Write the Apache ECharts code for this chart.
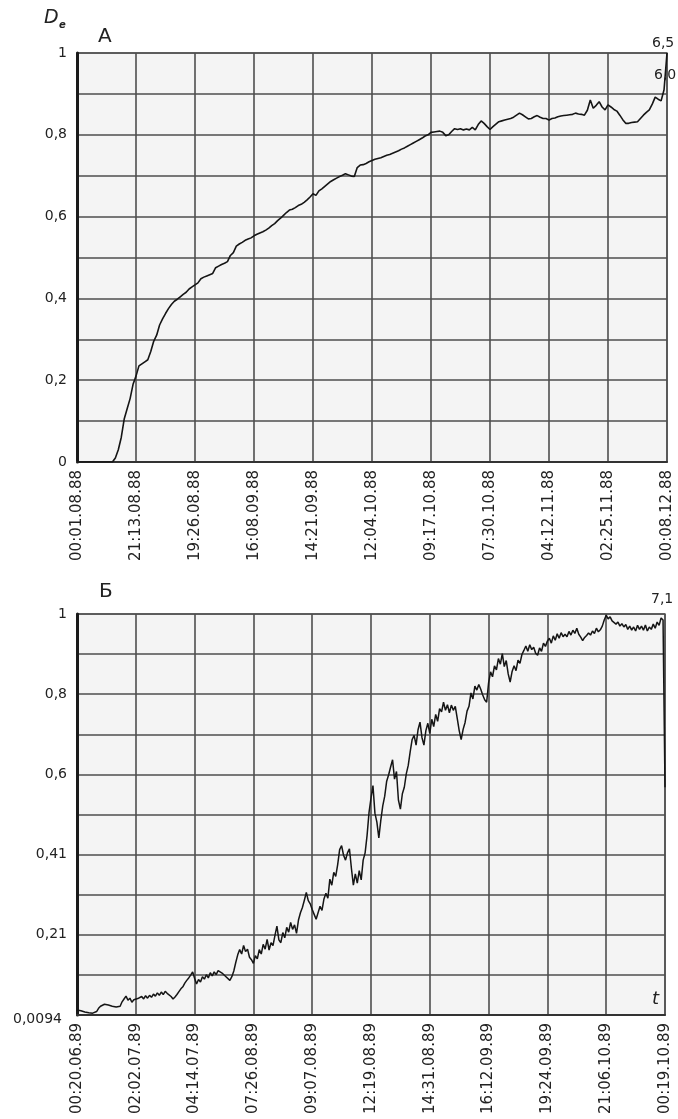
<!DOCTYPE html>
<html>
<head>
<meta charset="utf-8">
<script src="https://cdn.jsdelivr.net/npm/echarts@6/dist/echarts.min.js"></script>
<style>
  html, body { margin: 0; padding: 0; background: #ffffff; }
  #chart { width: 678px; height: 1119px; }
</style>
</head>
<body>
<div id="chart"></div>
<script>
// Panel А: time tick labels (hour:day.month.year) and D values at 201 evenly spaced moments
const xLabelsA = ['00:01.08.88', '21:13.08.88', '19:26.08.88', '16:08.09.88', '14:21.09.88',
  '12:04.10.88', '09:17.10.88', '07:30.10.88', '04:12.11.88', '02:25.11.88', '00:08.12.88'];
const yLabelsA = ['0', '', '0,2', '', '0,4', '', '0,6', '', '0,8', '', '1'];
const valuesA = [
  0, 0, 0, 0, 0, 0, 0, 0, 0, 0,
  0, 0, 0, 0.01, 0.03, 0.06, 0.105, 0.13, 0.155, 0.19,
  0.21, 0.235, 0.24, 0.245, 0.25, 0.27, 0.295, 0.31, 0.335, 0.35,
  0.363, 0.375, 0.385, 0.393, 0.398, 0.404, 0.41, 0.415, 0.423, 0.428,
  0.433, 0.438, 0.448, 0.452, 0.455, 0.458, 0.461, 0.475, 0.479, 0.483,
  0.486, 0.49, 0.505, 0.512, 0.528, 0.533, 0.537, 0.542, 0.545, 0.548,
  0.553, 0.557, 0.56, 0.563, 0.567, 0.572, 0.578, 0.583, 0.59, 0.596,
  0.603, 0.61, 0.616, 0.618, 0.622, 0.627, 0.63, 0.635, 0.641, 0.648,
  0.656, 0.652, 0.663, 0.668, 0.674, 0.68, 0.686, 0.69, 0.694, 0.698,
  0.701, 0.705, 0.702, 0.699, 0.698, 0.72, 0.726, 0.727, 0.73, 0.734,
  0.737, 0.74, 0.742, 0.744, 0.747, 0.75, 0.752, 0.755, 0.758, 0.761,
  0.765, 0.768, 0.772, 0.776, 0.78, 0.784, 0.788, 0.792, 0.797, 0.8,
  0.806, 0.807, 0.808, 0.809, 0.806, 0.798, 0.8, 0.808, 0.815, 0.813,
  0.815, 0.812, 0.814, 0.812, 0.818, 0.812, 0.825, 0.834, 0.828, 0.82,
  0.813, 0.82, 0.826, 0.832, 0.834, 0.836, 0.838, 0.84, 0.843, 0.848,
  0.853, 0.849, 0.844, 0.839, 0.84, 0.844, 0.847, 0.843, 0.84, 0.84,
  0.836, 0.84, 0.841, 0.844, 0.846, 0.847, 0.848, 0.849, 0.85, 0.853,
  0.851, 0.85, 0.848, 0.86, 0.885, 0.865, 0.872, 0.881, 0.868, 0.861,
  0.873, 0.868, 0.862, 0.858, 0.848, 0.837, 0.828, 0.828, 0.83, 0.831,
  0.832, 0.84, 0.848, 0.855, 0.861, 0.875, 0.892, 0.887, 0.883, 0.91,
  1.0
];

// Panel Б: time tick labels and D values at 301 evenly spaced moments
const xLabelsB = ['00:20.06.89', '02:02.07.89', '04:14.07.89', '07:26.08.89', '09:07.08.89',
  '12:19.08.89', '14:31.08.89', '16:12.09.89', '19:24.09.89', '21:06.10.89', '00:19.10.89'];
const yLabelsB = ['0,0094', '', '0,21', '', '0,41', '', '0,6', '', '0,8', '', '1'];
const yMinB = 0.0094;
const yStepB = 0.09906;
const valuesB = [
  0.022, 0.018, 0.02, 0.016, 0.017, 0.014, 0.015, 0.012, 0.014, 0.011,
  0.018, 0.026, 0.031, 0.028, 0.036, 0.04, 0.034, 0.037, 0.031, 0.034,
  0.029, 0.033, 0.031, 0.042, 0.049, 0.056, 0.046, 0.051, 0.041, 0.047,
  0.044, 0.05, 0.046, 0.055, 0.049, 0.057, 0.051, 0.058, 0.053, 0.061,
  0.056, 0.064, 0.058, 0.066, 0.06, 0.068, 0.063, 0.061, 0.055, 0.049,
  0.054, 0.06, 0.067, 0.074, 0.079, 0.088, 0.095, 0.101, 0.108, 0.116,
  0.1, 0.086, 0.097, 0.091, 0.104, 0.098, 0.109, 0.101, 0.114, 0.106,
  0.116, 0.109, 0.119, 0.123, 0.113, 0.117, 0.104, 0.101, 0.095, 0.104,
  0.118, 0.139, 0.158, 0.171, 0.16, 0.181, 0.166, 0.172, 0.152, 0.146,
  0.137, 0.156, 0.148, 0.171, 0.16, 0.184, 0.172, 0.196, 0.17, 0.188,
  0.181, 0.206, 0.229, 0.195, 0.188, 0.213, 0.2, 0.226, 0.214, 0.238,
  0.221, 0.232, 0.211, 0.244, 0.262, 0.275, 0.293, 0.312, 0.292, 0.284,
  0.27, 0.258, 0.246, 0.262, 0.278, 0.268, 0.296, 0.31, 0.298, 0.345,
  0.33, 0.362, 0.352, 0.381, 0.418, 0.428, 0.404, 0.392, 0.41, 0.42,
  0.372, 0.33, 0.358, 0.335, 0.366, 0.343, 0.392, 0.41, 0.453, 0.51,
  0.545, 0.576, 0.508, 0.486, 0.447, 0.49, 0.526, 0.55, 0.587, 0.603,
  0.622, 0.64, 0.592, 0.611, 0.54, 0.518, 0.556, 0.572, 0.605, 0.626,
  0.66, 0.69, 0.7, 0.676, 0.714, 0.733, 0.695, 0.676, 0.712, 0.73,
  0.705, 0.74, 0.722, 0.752, 0.735, 0.766, 0.758, 0.782, 0.762, 0.776,
  0.756, 0.775, 0.762, 0.772, 0.742, 0.712, 0.69, 0.715, 0.732, 0.76,
  0.772, 0.805, 0.79, 0.822, 0.812, 0.826, 0.814, 0.8, 0.788, 0.782,
  0.83, 0.857, 0.845, 0.872, 0.862, 0.89, 0.876, 0.902, 0.87, 0.885,
  0.852, 0.832, 0.858, 0.872, 0.86, 0.886, 0.878, 0.9, 0.91, 0.921,
  0.908, 0.924, 0.912, 0.918, 0.903, 0.898, 0.916, 0.908, 0.928, 0.92,
  0.933, 0.94, 0.928, 0.946, 0.935, 0.951, 0.94, 0.954, 0.944, 0.95,
  0.944, 0.957, 0.948, 0.96, 0.952, 0.965, 0.95, 0.943, 0.934, 0.942,
  0.947, 0.953, 0.948, 0.958, 0.952, 0.965, 0.956, 0.961, 0.97, 0.985,
  0.997, 0.988, 0.993, 0.983, 0.986, 0.975, 0.98, 0.97, 0.976, 0.968,
  0.974, 0.962, 0.97, 0.96, 0.968, 0.958, 0.972, 0.962, 0.97, 0.96,
  0.973, 0.958, 0.968, 0.962, 0.975, 0.965, 0.98, 0.972, 0.99, 0.985,
  0.572
];

const FONT = 'DejaVu Sans';
const gridLine = { show: true, lineStyle: { color: '#4e4e4e', width: 1.6 } };

function xAxisFor(gridIndex, count, labels) {
  const step = (count - 1) / (labels.length - 1);
  return {
    type: 'value', gridIndex: gridIndex, min: 0, max: count - 1, interval: step,
    axisLine: { show: true, onZero: false, lineStyle: { color: '#333', width: 2 } },
    axisTick: { show: false },
    splitLine: gridLine,
    axisLabel: {
      rotate: 90, margin: 8, color: '#222', fontFamily: FONT, fontSize: 15,
      showMinLabel: true, showMaxLabel: true,
      formatter: v => labels[Math.round(v / step)] || ''
    }
  };
}

function yAxisFor(gridIndex, min, step, labels, lowShift) {
  return {
    type: 'value', gridIndex: gridIndex, min: min, max: 1, interval: step,
    axisLine: { show: true, lineStyle: { color: '#1a1a1a', width: 3 } },
    axisTick: { show: false },
    splitLine: gridLine,
    axisLabel: {
      margin: 10, color: '#222', fontFamily: FONT, fontSize: 14,
      showMinLabel: true, showMaxLabel: true,
      formatter: v => {
        const k = Math.round((v - min) / step);
        const s = labels[k] || '';
        return (k === 0 && lowShift && s) ? '{low|' + s + '}' : s;
      },
      rich: { low: { fontFamily: FONT, fontSize: 14, color: '#222', padding: [9, 5, 0, 0] } }
    }
  };
}

const text = (x, y, str, size, extra) => ({
  type: 'text', left: x, top: y,
  style: Object.assign({ text: str, fill: '#222', font: size + 'px "' + FONT + '"' }, extra || {})
});

const chart = echarts.init(document.getElementById('chart'), null, { renderer: 'canvas' });
chart.setOption({
  animation: false,
  backgroundColor: '#ffffff',
  grid: [
    { left: 77, top: 53, width: 590, height: 409, show: true, backgroundColor: '#f4f4f4',
      borderColor: '#666', borderWidth: 1.5, containLabel: false },
    { left: 77, top: 614, width: 588, height: 401, show: true, backgroundColor: '#f4f4f4',
      borderColor: '#666', borderWidth: 1.5, containLabel: false }
  ],
  xAxis: [
    xAxisFor(0, valuesA.length, xLabelsA),
    xAxisFor(1, valuesB.length, xLabelsB)
  ],
  yAxis: [
    yAxisFor(0, 0, 0.1, yLabelsA, false),
    yAxisFor(1, yMinB, yStepB, yLabelsB, true)
  ],
  series: [
    { type: 'line', xAxisIndex: 0, yAxisIndex: 0, symbol: 'none',
      lineStyle: { color: '#151515', width: 1.6 },
      data: valuesA.map((v, i) => [i, v]) },
    { type: 'line', xAxisIndex: 1, yAxisIndex: 1, symbol: 'none',
      lineStyle: { color: '#151515', width: 1.5 },
      data: valuesB.map((v, i) => [i, v]) }
  ],
  graphic: [
    // axis title D with subscript e
    text(44, 9, 'D', 19, { font: 'italic 19px "' + FONT + '"' }),
    text(59, 20, 'e', 10, { font: 'bold italic 10px "' + FONT + '"' }),
    // panel letters
    text(98, 27, 'А', 20),
    text(99, 582, 'Б', 20),
    // values written at the right end of each curve
    text(652, 36, '6,5', 14),
    text(654, 68, '6,0', 14),
    text(651, 592, '7,1', 14),
    // time axis title
    text(652, 990, 't', 18, { font: 'italic 18px "' + FONT + '"' })
  ]
});
</script>
</body>
</html>
